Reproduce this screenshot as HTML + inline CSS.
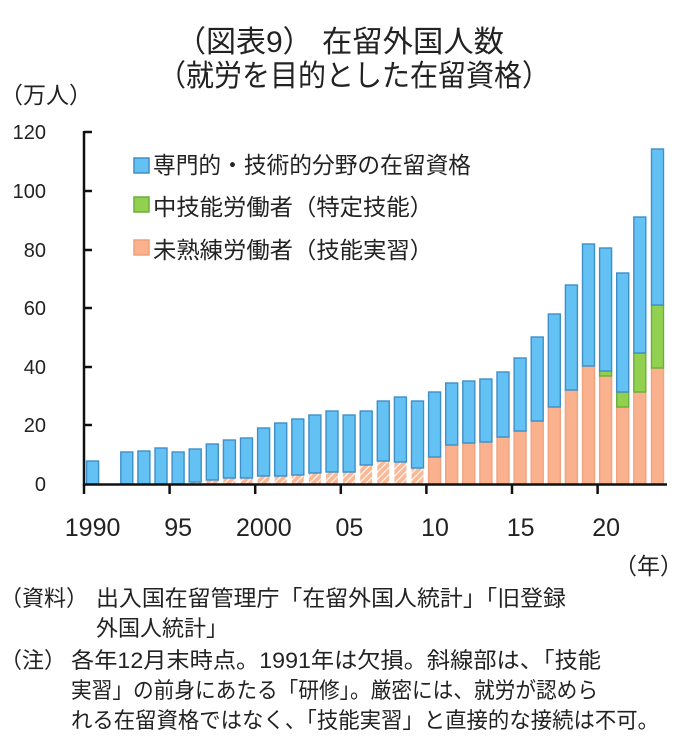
<!DOCTYPE html>
<html><head><meta charset="utf-8">
<style>
html,body{margin:0;padding:0;background:#fff;}
svg{display:block;}
text{font-family:"Liberation Sans","Noto Sans CJK JP",sans-serif;fill:#222;}
</style></head>
<body>
<svg width="680" height="745" viewBox="0 0 680 745" xmlns="http://www.w3.org/2000/svg">
<defs>
<pattern id="hatch" patternUnits="userSpaceOnUse" width="5" height="5" patternTransform="rotate(45)">
<rect width="5" height="5" fill="#F9B896"/>
<rect x="0" y="0" width="1.3" height="5" fill="#FFF4EE"/>
</pattern>
</defs>
<rect width="680" height="745" fill="#fff"/>

<text x="176" y="52" font-size="30">（図表9）</text>
<text x="322" y="52" font-size="30" textLength="182" lengthAdjust="spacingAndGlyphs">在留外国人数</text>
<text x="158" y="86" font-size="30" textLength="392" lengthAdjust="spacingAndGlyphs">（就労を目的とした在留資格）</text>

<text x="0" y="103" font-size="23">（万人）</text>

<g font-size="20" text-anchor="end">
<text x="46" y="139">120</text>
<text x="46" y="198">100</text>
<text x="46" y="257">80</text>
<text x="46" y="315">60</text>
<text x="46" y="374">40</text>
<text x="46" y="432">20</text>
<text x="46" y="491">0</text>
</g>

<rect x="134" y="158" width="15" height="15" fill="#63C1F3" stroke="#3F8FC8" stroke-width="1.5"/>
<rect x="134" y="197" width="15" height="15" fill="#92D050" stroke="#6DAE3A" stroke-width="1.5"/>
<rect x="134" y="240" width="15" height="15" fill="#F9B18E" stroke="#F0A07A" stroke-width="1.5"/>
<text x="153" y="173" font-size="23" textLength="318" lengthAdjust="spacingAndGlyphs">専門的・技術的分野の在留資格</text>
<text x="153" y="215" font-size="23" textLength="280" lengthAdjust="spacingAndGlyphs">中技能労働者（特定技能）</text>
<text x="153" y="258" font-size="23" textLength="280" lengthAdjust="spacingAndGlyphs">未熟練労働者（技能実習）</text>

<g stroke-width="1.4">
<rect x="86.6" y="461" width="12" height="23" fill="#63C1F3" stroke="#3F8FC8"/>
<rect x="120.8" y="452" width="12" height="32" fill="#63C1F3" stroke="#3F8FC8"/>
<rect x="137.9" y="451" width="12" height="33" fill="#63C1F3" stroke="#3F8FC8"/>
<rect x="155.0" y="448" width="12" height="36" fill="#63C1F3" stroke="#3F8FC8"/>
<rect x="172.1" y="452" width="12" height="32" fill="#63C1F3" stroke="#3F8FC8"/>
<rect x="189.2" y="482" width="12" height="2" fill="url(#hatch)" stroke="none"/>
<rect x="189.2" y="449" width="12" height="33" fill="#63C1F3" stroke="#3F8FC8"/>
<rect x="206.3" y="480" width="12" height="4" fill="url(#hatch)" stroke="none"/>
<rect x="206.3" y="444" width="12" height="36" fill="#63C1F3" stroke="#3F8FC8"/>
<rect x="223.4" y="478" width="12" height="6" fill="url(#hatch)" stroke="none"/>
<rect x="223.4" y="440" width="12" height="38" fill="#63C1F3" stroke="#3F8FC8"/>
<rect x="240.5" y="478" width="12" height="6" fill="url(#hatch)" stroke="none"/>
<rect x="240.5" y="438" width="12" height="40" fill="#63C1F3" stroke="#3F8FC8"/>
<rect x="257.6" y="476" width="12" height="8" fill="url(#hatch)" stroke="none"/>
<rect x="257.6" y="428" width="12" height="48" fill="#63C1F3" stroke="#3F8FC8"/>
<rect x="274.7" y="476" width="12" height="8" fill="url(#hatch)" stroke="none"/>
<rect x="274.7" y="423" width="12" height="53" fill="#63C1F3" stroke="#3F8FC8"/>
<rect x="291.8" y="475" width="12" height="9" fill="url(#hatch)" stroke="none"/>
<rect x="291.8" y="419" width="12" height="56" fill="#63C1F3" stroke="#3F8FC8"/>
<rect x="308.9" y="473" width="12" height="11" fill="url(#hatch)" stroke="none"/>
<rect x="308.9" y="415" width="12" height="58" fill="#63C1F3" stroke="#3F8FC8"/>
<rect x="326.0" y="472" width="12" height="12" fill="url(#hatch)" stroke="none"/>
<rect x="326.0" y="411" width="12" height="61" fill="#63C1F3" stroke="#3F8FC8"/>
<rect x="343.1" y="472" width="12" height="12" fill="url(#hatch)" stroke="none"/>
<rect x="343.1" y="415" width="12" height="57" fill="#63C1F3" stroke="#3F8FC8"/>
<rect x="360.2" y="465" width="12" height="19" fill="url(#hatch)" stroke="none"/>
<rect x="360.2" y="411" width="12" height="54" fill="#63C1F3" stroke="#3F8FC8"/>
<rect x="377.3" y="461" width="12" height="23" fill="url(#hatch)" stroke="none"/>
<rect x="377.3" y="401" width="12" height="60" fill="#63C1F3" stroke="#3F8FC8"/>
<rect x="394.4" y="462" width="12" height="22" fill="url(#hatch)" stroke="none"/>
<rect x="394.4" y="397" width="12" height="65" fill="#63C1F3" stroke="#3F8FC8"/>
<rect x="411.5" y="468" width="12" height="16" fill="url(#hatch)" stroke="none"/>
<rect x="411.5" y="401" width="12" height="67" fill="#63C1F3" stroke="#3F8FC8"/>
<rect x="428.6" y="457" width="12" height="27" fill="#F9B18E" stroke="#F2A27E"/>
<rect x="428.6" y="392" width="12" height="65" fill="#63C1F3" stroke="#3F8FC8"/>
<rect x="445.7" y="445" width="12" height="39" fill="#F9B18E" stroke="#F2A27E"/>
<rect x="445.7" y="383" width="12" height="62" fill="#63C1F3" stroke="#3F8FC8"/>
<rect x="462.8" y="443" width="12" height="41" fill="#F9B18E" stroke="#F2A27E"/>
<rect x="462.8" y="381" width="12" height="62" fill="#63C1F3" stroke="#3F8FC8"/>
<rect x="479.9" y="442" width="12" height="42" fill="#F9B18E" stroke="#F2A27E"/>
<rect x="479.9" y="379" width="12" height="63" fill="#63C1F3" stroke="#3F8FC8"/>
<rect x="497.0" y="437" width="12" height="47" fill="#F9B18E" stroke="#F2A27E"/>
<rect x="497.0" y="372" width="12" height="65" fill="#63C1F3" stroke="#3F8FC8"/>
<rect x="514.1" y="431" width="12" height="53" fill="#F9B18E" stroke="#F2A27E"/>
<rect x="514.1" y="358" width="12" height="73" fill="#63C1F3" stroke="#3F8FC8"/>
<rect x="531.2" y="421" width="12" height="63" fill="#F9B18E" stroke="#F2A27E"/>
<rect x="531.2" y="337" width="12" height="84" fill="#63C1F3" stroke="#3F8FC8"/>
<rect x="548.3" y="407" width="12" height="77" fill="#F9B18E" stroke="#F2A27E"/>
<rect x="548.3" y="314" width="12" height="93" fill="#63C1F3" stroke="#3F8FC8"/>
<rect x="565.4" y="390" width="12" height="94" fill="#F9B18E" stroke="#F2A27E"/>
<rect x="565.4" y="285" width="12" height="105" fill="#63C1F3" stroke="#3F8FC8"/>
<rect x="582.5" y="366" width="12" height="118" fill="#F9B18E" stroke="#F2A27E"/>
<rect x="582.5" y="244" width="12" height="122" fill="#63C1F3" stroke="#3F8FC8"/>
<rect x="599.6" y="376" width="12" height="108" fill="#F9B18E" stroke="#F2A27E"/>
<rect x="599.6" y="371" width="12" height="5" fill="#92D050" stroke="#6DAE3A"/>
<rect x="599.6" y="248" width="12" height="123" fill="#63C1F3" stroke="#3F8FC8"/>
<rect x="616.7" y="407" width="12" height="77" fill="#F9B18E" stroke="#F2A27E"/>
<rect x="616.7" y="392" width="12" height="15" fill="#92D050" stroke="#6DAE3A"/>
<rect x="616.7" y="273" width="12" height="119" fill="#63C1F3" stroke="#3F8FC8"/>
<rect x="633.8" y="392" width="12" height="92" fill="#F9B18E" stroke="#F2A27E"/>
<rect x="633.8" y="353" width="12" height="39" fill="#92D050" stroke="#6DAE3A"/>
<rect x="633.8" y="217" width="12" height="136" fill="#63C1F3" stroke="#3F8FC8"/>
<rect x="651.5" y="368" width="12" height="116" fill="#F9B18E" stroke="#F2A27E"/>
<rect x="651.5" y="305" width="12" height="63" fill="#92D050" stroke="#6DAE3A"/>
<rect x="651.5" y="149" width="12" height="156" fill="#63C1F3" stroke="#3F8FC8"/>
</g>

<g stroke="#111" stroke-width="2.5" fill="none">
<line x1="84" y1="131" x2="84" y2="486"/>
<line x1="83" y1="484.5" x2="667" y2="484.5"/>
<line x1="84" y1="132" x2="92" y2="132"/>
<line x1="84" y1="191" x2="92" y2="191"/>
<line x1="84" y1="250" x2="92" y2="250"/>
<line x1="84" y1="308" x2="92" y2="308"/>
<line x1="84" y1="367" x2="92" y2="367"/>
<line x1="84" y1="425" x2="92" y2="425"/>
<line x1="84" y1="484" x2="84" y2="494"/>
<line x1="169.6" y1="484" x2="169.6" y2="494"/>
<line x1="255.2" y1="484" x2="255.2" y2="494"/>
<line x1="340.8" y1="484" x2="340.8" y2="494"/>
<line x1="426.4" y1="484" x2="426.4" y2="494"/>
<line x1="512" y1="484" x2="512" y2="494"/>
<line x1="597.6" y1="484" x2="597.6" y2="494"/>
</g>

<g font-size="25" text-anchor="middle">
<text x="92.6" y="536">1990</text>
<text x="178.2" y="536">95</text>
<text x="263.8" y="536">2000</text>
<text x="349.4" y="536">05</text>
<text x="435" y="536">10</text>
<text x="520.6" y="536">15</text>
<text x="606.2" y="536">20</text>
</g>
<text x="614" y="574" font-size="23">（年）</text>

<g font-size="22">
<text x="0" y="606">（資料）</text>
<text x="96" y="606" textLength="470" lengthAdjust="spacingAndGlyphs">出入国在留管理庁「在留外国人統計」「旧登録</text>
<text x="96" y="636">外国人統計」</text>
<text x="0" y="668">（注）</text>
<text x="71" y="668" textLength="530" lengthAdjust="spacingAndGlyphs">各年12月末時点。1991年は欠損。斜線部は、「技能</text>
<text x="71" y="698" textLength="527" lengthAdjust="spacingAndGlyphs">実習」の前身にあたる「研修」。厳密には、就労が認めら</text>
<text x="71" y="728" textLength="588" lengthAdjust="spacingAndGlyphs">れる在留資格ではなく、「技能実習」と直接的な接続は不可。</text>
</g>
</svg>
</body></html>
